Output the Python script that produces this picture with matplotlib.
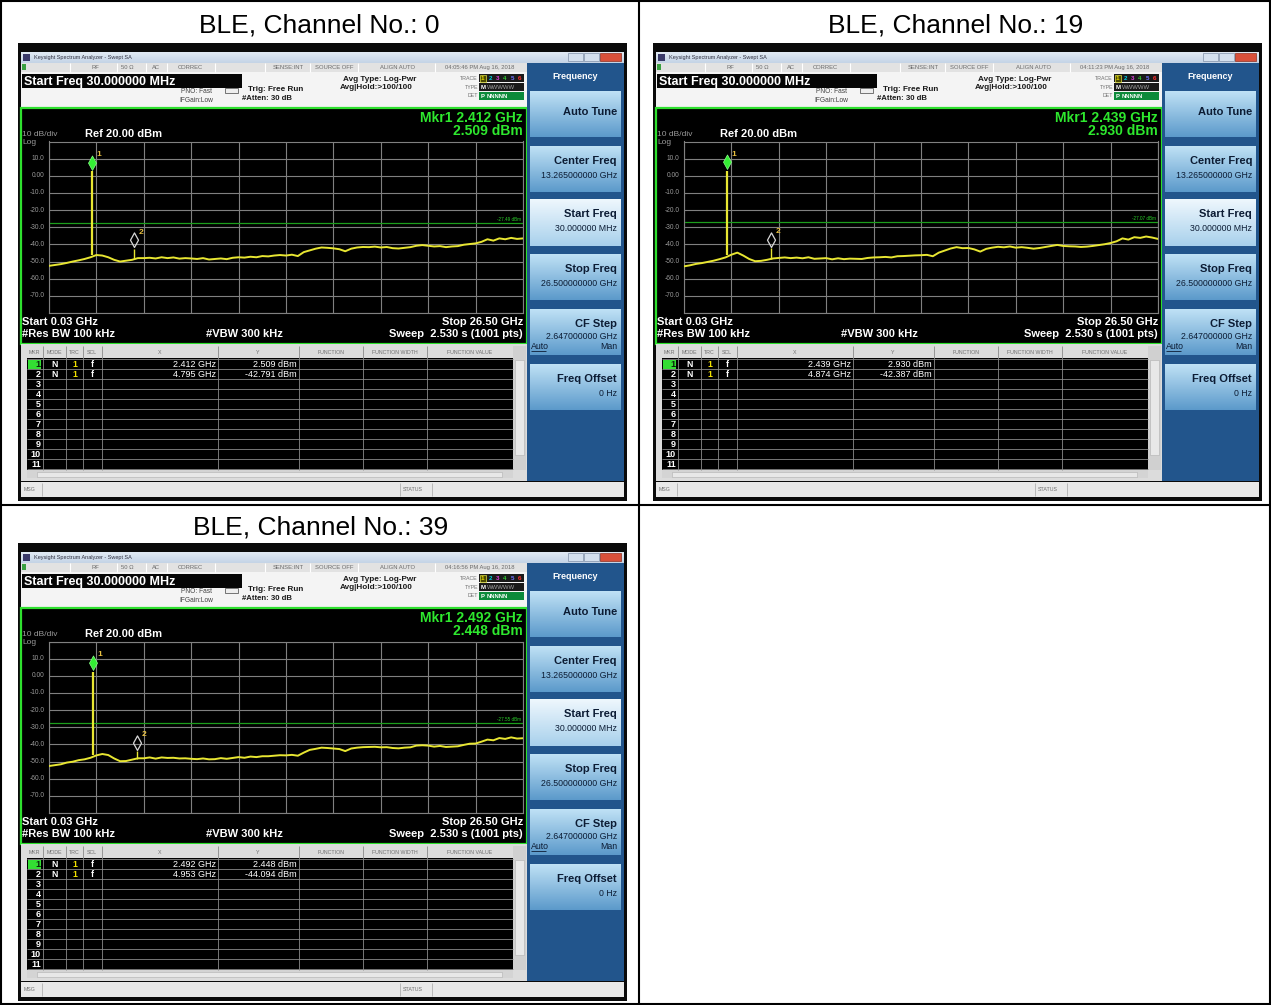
import numpy as np
import matplotlib
matplotlib.use('Agg')
import matplotlib.pyplot as plt
from matplotlib.patches import Rectangle
from matplotlib.path import Path
from matplotlib.colors import to_rgb

plt.rcParams['font.family'] = ['Liberation Sans', 'DejaVu Sans']

# ---- values ----
channels = [0, 19, 39]
timestamps = ['04:05:46 PM Aug 16, 2018', '04:11:23 PM Aug 16, 2018', '04:16:56 PM Aug 16, 2018']
mkr1_freq = [2.412, 2.439, 2.492]      # GHz
mkr1_level = [2.509, 2.930, 2.448]     # dBm
mkr2_freq = [4.795, 4.874, 4.953]      # GHz
mkr2_level = [-42.791, -42.387, -44.094]
mkr1_base = [-46.3, -46.0, -46.2]      # trace level under the spikes
mkr2_base = [-48.6, -48.4, -48.3]

start_ghz, stop_ghz = 0.03, 26.5
ref_level, db_per_div = 20.0, 10.0

# noise floor, one reading every 1/8 division (81 readings per sweep)
floor_ch0 = [-52.5, -52.0, -51.5, -50.8, -50.0, -49.3, -48.5, -47.5, -46.2, -46.5,
             -47.5, -49.0, -50.0, -49.5, -49.0, -48.0, -48.0, -47.8, -48.2, -47.5,
             -48.0, -47.6, -48.3, -48.0, -48.2, -48.5, -48.0, -48.8, -48.5, -48.2,
             -48.6, -47.8, -47.5, -47.7, -47.2, -47.5, -46.8, -47.0, -46.5, -46.2,
             -46.5, -46.0, -46.8, -44.5, -43.5, -42.5, -41.8, -42.0, -42.3, -42.8,
             -44.0, -42.5, -41.8, -41.5, -41.6, -41.3, -41.8, -41.5, -42.2, -42.4,
             -42.0, -41.6, -40.8, -40.4, -40.8, -41.2, -41.0, -41.6, -41.2, -41.0,
             -40.2, -39.8, -39.4, -38.5, -37.0, -37.8, -36.5, -37.0, -36.2, -36.8, -36.5]
floor_ch19 = [-52.8, -52.2, -51.4, -50.9, -50.2, -49.5, -48.6, -47.6, -46.0, -44.8,
              -46.5, -48.5, -49.8, -49.6, -49.0, -48.2, -47.9, -47.6, -48.0, -47.7,
              -48.1, -47.5, -48.4, -48.2, -48.0, -48.7, -48.1, -48.6, -48.3, -48.4,
              -48.5, -47.9, -47.6, -47.5, -47.3, -47.6, -46.9, -46.8, -46.6, -46.4,
              -46.3, -46.1, -46.9, -44.8, -43.6, -42.4, -41.6, -42.2, -42.1, -42.9,
              -44.2, -42.6, -41.9, -41.4, -41.7, -41.2, -41.9, -41.6, -42.0, -42.5,
              -42.1, -41.5, -40.9, -40.3, -40.9, -41.1, -41.2, -41.5, -41.3, -40.9,
              -40.4, -39.9, -39.2, -38.2, -36.5, -37.2, -35.8, -36.2, -35.4, -36.0, -36.8]
floor_ch39 = [-52.6, -52.1, -51.6, -50.6, -50.1, -49.2, -48.7, -47.8, -46.4, -45.6,
              -46.2, -48.2, -49.8, -49.7, -48.9, -48.1, -48.1, -47.6, -48.3, -47.6,
              -47.9, -47.8, -48.2, -48.1, -48.4, -48.6, -48.2, -48.7, -48.6, -48.0,
              -48.4, -47.9, -47.4, -47.8, -47.1, -47.4, -46.9, -46.9, -46.6, -46.3,
              -46.4, -46.1, -46.6, -44.8, -43.2, -42.6, -41.9, -42.1, -42.4, -42.7,
              -43.9, -42.4, -41.9, -41.6, -41.5, -41.4, -41.7, -41.6, -42.1, -42.3,
              -41.9, -41.7, -40.7, -40.5, -40.7, -41.3, -40.9, -41.5, -41.3, -41.1,
              -40.3, -39.6, -39.5, -38.4, -37.2, -37.6, -36.3, -36.8, -35.9, -36.6, -36.4]
floors = [floor_ch0, floor_ch19, floor_ch39]

softkeys = [('Auto Tune', '', 91, 137),
            ('Center Freq', '13.265000000 GHz', 146, 192),
            ('Start Freq', '30.000000 MHz', 199, 246),
            ('Stop Freq', '26.500000000 GHz', 254, 300),
            ('CF Step', '2.647000000 GHz', 309, 355),
            ('Freq Offset', '0 Hz', 364, 410)]

W, H = 1271, 1005
fig = plt.figure(figsize=(W / 100, H / 100), dpi=100)
bg = fig.add_axes([0, 0, 1, 1])

YEL = '#e8e632'


def rect(x0, y0, x1, y1, fc, ec='none', lw=0, z=1):
    bg.add_patch(Rectangle((x0, y0), x1 - x0, y1 - y0, facecolor=fc,
                           edgecolor=ec, linewidth=lw, zorder=z))


def txt(x, y, s, size, color='black', ha='left', weight='normal', z=5):
    bg.text(x, y, s, fontsize=size, color=color, ha=ha, va='center',
            fontweight=weight, zorder=z)


def gradient(x0, y0, x1, y1, top, bottom, z=2):
    t = np.linspace(0, 1, 40)[:, None]
    img = (1 - t) * np.array(to_rgb(top)) + t * np.array(to_rgb(bottom))
    bg.imshow(img[:, None, :], extent=(x0, x1, y1, y0), aspect='auto',
              zorder=z, interpolation='bilinear')


def hline(y, x0, x1, color, lw=0.6, z=3):
    bg.plot([x0, x1], [y, y], color=color, lw=lw, zorder=z, solid_capstyle='butt')


def vline(x, y0, y1, color, lw=0.6, z=3):
    bg.plot([x, x], [y0, y1], color=color, lw=lw, zorder=z, solid_capstyle='butt')


# diamond marker with its bottom tip on the data point
diamond = Path([(0, 0), (0.55, 1), (0, 2), (-0.55, 1), (0, 0)],
               [Path.MOVETO, Path.LINETO, Path.LINETO, Path.LINETO, Path.CLOSEPOLY])


def draw_screen(k, ox, oy):
    def R(x0, y0, x1, y1, fc, ec='none', lw=0, z=1):
        rect(x0 + ox, y0 + oy, x1 + ox, y1 + oy, fc, ec, lw, z)

    def T(x, y, s, size, color='black', ha='left', weight='normal'):
        txt(x + ox, y + oy, s, size, color, ha, weight)

    # window frame and title bar
    R(18, 43, 627, 501, '#0a0a0a')
    gradient(21 + ox, 52 + oy, 624 + ox, 63 + oy, '#e2eaf4', '#c4d4e6')
    R(23, 54, 30, 61, '#3a3a6a', z=3)
    T(34, 57.5, 'Keysight Spectrum Analyzer - Swept SA', 4.0, '#303040')
    R(568, 53, 583, 61, '#d4e0ee', '#8090a8', 0.5, z=3)
    R(584, 53, 599, 61, '#d4e0ee', '#8090a8', 0.5, z=3)
    R(600, 53, 621, 61, '#d8503a', '#903020', 0.5, z=3)

    # status row
    R(21, 63, 527, 72, '#e2e2e2', z=2)
    R(22, 64, 26, 70, '#3aa040', z=3)
    for sx in [70, 117, 146, 167, 215, 265, 310, 358, 435]:
        vline(sx + ox, 63 + oy, 72 + oy, '#ffffff', 0.8)
    for sx, s in [(95, 'RF'), (127, '50 Ω'), (156, 'AC'), (190, 'CORREC'),
                  (288, 'SENSE:INT'), (334, 'SOURCE OFF'), (398, 'ALIGN AUTO'),
                  (480, timestamps[k])]:
        T(sx, 67.5, s, 4.2, '#6a6a6a', ha='center')

    # settings panel
    R(21, 72, 527, 108, '#f4f4f4', z=2)
    R(22, 74, 242, 88, '#050505', z=3)
    T(24, 81.5, 'Start Freq 30.000000 MHz', 9, 'white', weight='bold')
    T(181, 91, 'PNO: Fast', 4.8, '#404040')
    R(225, 88, 238, 93, '#eeeeee', '#606060', 0.6, z=3)
    T(179, 100, 'IFGain:Low', 4.8, '#404040')
    T(248, 89, 'Trig: Free Run', 5.9, '#1a1a1a', weight='bold')
    T(242, 98, '#Atten: 30 dB', 5.6, '#1a1a1a', weight='bold')
    T(343, 79, 'Avg Type: Log-Pwr', 5.9, '#1a1a1a', weight='bold')
    T(340, 87, 'Avg|Hold:>100/100', 5.9, '#1a1a1a', weight='bold')
    T(478, 78, 'TRACE', 3.8, '#707070', ha='right')
    T(478, 87, 'TYPE', 3.8, '#707070', ha='right')
    T(478, 95.5, 'DET', 3.8, '#707070', ha='right')
    R(479, 74, 524, 82, '#1a1a1a', z=3)
    R(479, 83, 524, 91, '#1a1a1a', z=3)
    R(479, 92, 524, 100, '#0c8a3a', z=3)
    R(479.5, 74.5, 486, 81.5, '#4a4a00', '#e0e040', 0.5, z=3)
    for i, c in enumerate(['#f0e000', '#00d0e0', '#e040e0', '#30d030', '#7070ff', '#ff3030']):
        T(482.7 + i * 7.4, 78, str(i + 1), 4.5, c, ha='center', weight='bold')
    T(480.5, 87, 'M', 4.3, 'white', weight='bold')
    T(487, 87, 'WWWWW', 4.3, '#a0a0a0')
    T(480.5, 96, 'P', 4.3, 'white', weight='bold')
    T(487, 96, 'NNNNN', 4.3, 'white', weight='bold')

    # display area
    R(21, 108, 527, 344, '#000000', '#2ee02e', 1.6, z=2)
    T(523, 118, f'Mkr1 {mkr1_freq[k]:.3f} GHz', 10, '#2ee82e', ha='right', weight='bold')
    T(523, 130.5, f'{mkr1_level[k]:.3f} dBm', 10, '#2ee82e', ha='right', weight='bold')
    T(22, 134, '10 dB/div', 6, '#9a9a9a')
    T(85, 134, f'Ref {ref_level:.2f} dBm', 8, 'white', weight='bold')
    T(22, 142, 'Log', 6, '#9a9a9a')
    T(22, 321.5, f'Start {start_ghz:.2f} GHz', 8, 'white', weight='bold')
    T(523, 321.5, f'Stop {stop_ghz:.2f} GHz', 8, 'white', ha='right', weight='bold')
    T(22, 333.5, '#Res BW 100 kHz', 8, 'white', weight='bold')
    T(206, 333.5, '#VBW 300 kHz', 8, 'white', weight='bold')
    T(523, 333.5, 'Sweep  2.530 s (1001 pts)', 8, 'white', ha='right', weight='bold')

    # marker table
    R(21, 344, 527, 481, '#dcdcdc', z=2)
    R(27, 358, 513, 470, '#000000', z=3)
    for hx, s in [(34, 'MKR'), (54, 'MODE'), (74, 'TRC'), (92, 'SCL'), (160, 'X'),
                  (258, 'Y'), (331, 'FUNCTION'), (395, 'FUNCTION WIDTH'), (470, 'FUNCTION VALUE')]:
        T(hx, 352.5, s, 3.8, '#707070', ha='center')
    for cx in [43, 66, 83, 102, 218, 299, 363, 427]:
        vline(cx + ox, 346 + oy, 470 + oy, '#8a8a8a', 0.6, z=4)
    for r in range(12):
        hline(359 + r * 10 + oy, 27 + ox, 513 + ox, '#8a8a8a', 0.6, z=4)
    R(28, 359.5, 41, 368.5, '#33dd33', z=4)
    for r in range(11):
        T(41, 364 + r * 10, str(r + 1), 6.5, '#0a200a' if r == 0 else 'white', ha='right', weight='bold')
    for r, (f, lv) in enumerate([(mkr1_freq[k], mkr1_level[k]), (mkr2_freq[k], mkr2_level[k])]):
        y = 364 + r * 10
        T(55, y, 'N', 6.3, 'white', ha='center', weight='bold')
        T(74.5, y, '1', 6.3, '#f0e000', ha='center', weight='bold')
        T(92.5, y, 'f', 6.3, 'white', ha='center', weight='bold')
        T(216, y, f'{f:.3f} GHz', 6.5, 'white', ha='right')
        T(297, y, f'{lv:.3f} dBm', 6.5, 'white', ha='right')
    R(513, 346, 526, 470, '#d0d0d0', z=3)
    R(515, 360, 524, 455, '#e8e8e8', '#b0b0b0', 0.4, z=4)
    R(27, 470, 513, 478, '#d4d4d4', z=3)
    R(37, 471.5, 502, 476.5, '#e8e8e8', '#b0b0b0', 0.4, z=4)

    # softkey panel
    R(527, 63, 624, 481, '#22558c', z=2)
    T(575, 76, 'Frequency', 6.5, 'white', ha='center', weight='bold')
    for i, (lab, val, y0, y1) in enumerate(softkeys):
        if lab == 'Start Freq':
            gradient(530 + ox, y0 + oy, 621 + ox, y1 + oy, '#eef7fd', '#a9d1ec', z=3)
        else:
            gradient(530 + ox, y0 + oy, 621 + ox, y1 + oy, '#bfe1f5', '#5c9acb', z=3)
        if val:
            T(617, y0 + 15, lab, 8, '#0c1c34', ha='right', weight='bold')
            T(617, y0 + 29 if lab != 'CF Step' else y0 + 27, val, 6.3, '#0c1c34', ha='right')
        else:
            T(617, (y0 + y1) / 2 - 2, lab, 8, '#0c1c34', ha='right', weight='bold')
        if lab == 'CF Step':
            T(531, y0 + 37, 'Auto', 6.3, '#0c1c34')
            hline(y0 + 41.5 + oy, 531 + ox, 546 + ox, '#0c1c34', 0.6, z=6)
            T(617, y0 + 37, 'Man', 6.3, '#0c1c34', ha='right')

    # bottom status bar
    R(21, 482, 624, 497, '#e8e8e8', z=2)
    T(24, 489.5, 'MSG', 3.8, '#707070')
    vline(42 + ox, 483 + oy, 496 + oy, '#b0b0b0')
    vline(400 + ox, 483 + oy, 496 + oy, '#b0b0b0')
    vline(432 + ox, 483 + oy, 496 + oy, '#b0b0b0')
    T(403, 489.5, 'STATUS', 3.8, '#707070')

    # trace graticule
    ax = fig.add_axes([(49 + ox) / W, 1 - (313 + oy) / H, 474 / W, 171.5 / H])
    ax.set_facecolor('black')
    ax.set_xlim(start_ghz, stop_ghz)
    ax.set_ylim(ref_level - 10 * db_per_div, ref_level)
    ax.set_xticks(np.linspace(start_ghz, stop_ghz, 11))
    ax.set_yticks(np.arange(ref_level - 10 * db_per_div, ref_level + 1, db_per_div))
    ax.tick_params(length=0, labelbottom=False, labelleft=False)
    ax.grid(True, color='#808080', linewidth=0.8)
    for sp in ax.spines.values():
        sp.set_color('#808080')
        sp.set_linewidth(0.8)
    ax.set_axisbelow(True)
    for v in np.arange(ref_level - db_per_div, ref_level - 9 * db_per_div - 1, -db_per_div):
        lab = '0.00' if v == 0 else f'{v:.1f}'
        ax.text(-0.009, v, lab, transform=ax.get_yaxis_transform(), ha='right',
                va='center', fontsize=4.8, color='#9a9a9a', clip_on=False)

    limit = mkr1_level[k] - 30
    ax.axhline(limit, color='#1c9e1c', lw=0.9, zorder=2)
    ax.text(0.995, limit + 0.6, f'{limit:.2f} dBm', transform=ax.get_yaxis_transform(),
            ha='right', va='bottom', fontsize=3.3, color='#2ad02a')

    freqs = np.linspace(start_ghz, stop_ghz, len(floors[k]))
    ax.plot(freqs, floors[k], color=YEL, lw=1.4, zorder=3)
    ax.vlines(mkr1_freq[k], mkr1_base[k], mkr1_level[k], color=YEL, lw=1.6, zorder=3)
    ax.vlines(mkr2_freq[k], mkr2_base[k], mkr2_level[k], color=YEL, lw=1.0, zorder=3)
    ax.plot(mkr1_freq[k], mkr1_level[k] + 1.0, marker=diamond, ms=21, color='#34ee34',
            mec='#88ff88', mew=0.5, zorder=4)
    ax.plot(mkr2_freq[k], mkr2_level[k] + 1.0, marker=diamond, ms=21, mfc='none',
            mec='#d8d8d8', mew=0.9, zorder=4)
    ax.annotate('1', (mkr1_freq[k], mkr1_level[k]), xytext=(5, 12), textcoords='offset points',
                fontsize=6, color='#e8c040', ha='center', va='center', fontweight='bold')
    ax.annotate('2', (mkr2_freq[k], mkr2_level[k]), xytext=(5, 12), textcoords='offset points',
                fontsize=6, color='#e8c040', ha='center', va='center', fontweight='bold')


offsets = [(0, 0), (635, 0), (0, 500)]
for k, (ox, oy) in enumerate(offsets):
    draw_screen(k, ox, oy)

# table cells and their titles
title_pos = [(319.5, 25), (956, 25), (321, 527)]
for k, (tx, ty) in enumerate(title_pos):
    txt(tx, ty, f'BLE, Channel No.: {channels[k]}', 19, 'black', ha='center')
bg.add_patch(Rectangle((1, 1), W - 2.5, H - 2.5, facecolor='none', edgecolor='black', lw=1.5, zorder=8))
vline(639, 1, H - 1, 'black', 1.5, z=8)
hline(505, 1, W - 1, 'black', 1.5, z=8)

bg.set_xlim(0, W)
bg.set_ylim(H, 0)
bg.axis('off')

fig.savefig('out.png', dpi=100, facecolor='white')
